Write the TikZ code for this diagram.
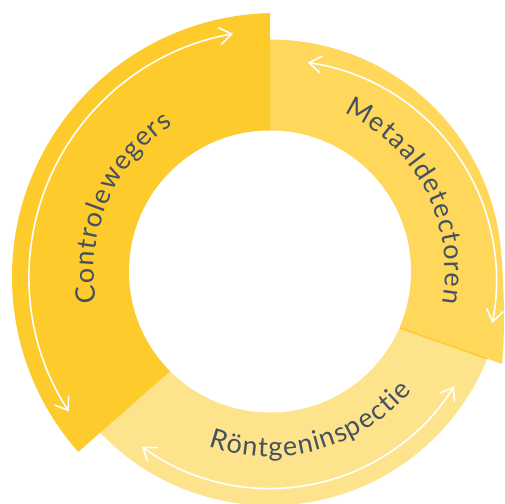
\documentclass[tikz,border=0pt]{standalone}
\usepackage{fontspec}
\setmainfont{Lato}
\usetikzlibrary{decorations.text,arrows.meta}
\definecolor{ctrl}{HTML}{FDCB2C}
\definecolor{meta}{HTML}{FED75B}
\definecolor{ront}{HTML}{FDE38B}
\definecolor{txt}{HTML}{455160}
\begin{document}
\begin{tikzpicture}[x=1pt,y=1pt,
  arr/.style={white, line width=1.6pt,
    {Straight Barb[length=12pt,width=17pt]}-{Straight Barb[length=12pt,width=17pt]}},
  lbl/.style={decorate, decoration={text along path, text align=center,
    text color=txt, text={|\fontsize{27}{28}\selectfont\kern1.2pt|#1}}}
]
\useasboundingbox (0,0) rectangle (505,503);
\fill[white] (0,0) rectangle (505,503);
\clip (0,0) rectangle (505,503);
\coordinate (C) at (270,231.5);
\coordinate (Cc) at (276,226);
\coordinate (Cm) at (276.5,222.7);
% Roentgeninspectie
\fill[ront] (C) -- ([shift={(215:234)}]C) arc[start angle=215,end angle=345,radius=234] -- cycle;
% Metaaldetectoren
\fill[meta] (C) -- (270,463.5) arc[start angle=90,end angle=5,radius=232]
  .. controls (503.7,221.7) and (505.5,175) .. (502,139) -- (400,175) -- (340,196) -- cycle;
% Controlewegers
\fill[ctrl] (C) -- (270,489.9) arc[start angle=91.3,end angle=221.5,radius=264]
  -- (168,130) -- (220,176) -- cycle;
% inner hole
\fill[white] (C) circle[radius=141];
\draw[ctrl, line width=1.5pt] (400,175) -- (487.1,144.3);
% arrows
\draw[arr] ([shift={(213:247)}]Cc) arc[start angle=213,end angle=100,radius=247];
\draw[arr] ([shift={(81.8:220)}]Cm) arc[start angle=81.8,end angle=-11.2,radius=220];
\draw[arr] ([shift={(233.8:217)}]C) arc[start angle=233.8,end angle=328.1,radius=217];
% labels
\path[lbl=Controlewegers] ([shift={(202:176)}]C) arc[start angle=202,end angle=112,radius=176];
\path[lbl=Metaaldetectoren] ([shift={(72:175)}]C) arc[start angle=72,end angle=-17,radius=175];
\path[lbl=Röntgeninspectie] ([shift={(235:185)}]C) arc[start angle=235,end angle=335,radius=185];
\end{tikzpicture}
\end{document}
